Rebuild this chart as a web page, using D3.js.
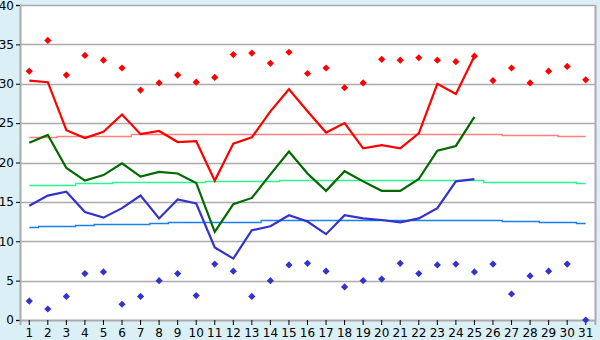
<!DOCTYPE html>
<html><head><meta charset="utf-8">
<script src="https://cdn.jsdelivr.net/npm/d3@7"></script>
<style>
body{margin:0;background:#daeff6;}
svg{display:block;}
text{font-family:"DejaVu Sans",sans-serif;font-size:12px;fill:#000;}
</style></head>
<body><svg id="c" width="600" height="340"></svg>
<script>
const days = d3.range(1, 32);
const yTicks = [0, 5, 10, 15, 20, 25, 30, 35, 40];
const maxDots = [31.6,35.5,31.1,33.6,33.0,32.0,29.2,30.1,31.1,30.2,30.8,33.7,33.9,32.6,34.0,31.3,32.0,29.5,30.1,33.1,33.0,33.3,33.0,32.8,33.5,30.4,32.0,30.1,31.6,32.2,30.5];
const minDots = [2.4,1.4,3.0,5.9,6.1,2.0,3.0,5.0,5.9,3.1,7.1,6.2,3.0,5.0,7.0,7.2,6.2,4.2,5.0,5.2,7.2,5.9,7.0,7.1,6.1,7.1,3.3,5.6,6.2,7.1,0.0];
const maxLine = [30.4,30.2,24.1,23.1,23.9,26.1,23.6,24.0,22.6,22.7,17.7,22.4,23.2,26.5,29.3,26.5,23.8,25.0,21.8,22.2,21.8,23.7,30.0,28.7,33.5];
const meanLine = [22.5,23.5,19.3,17.7,18.4,19.9,18.2,18.8,18.6,17.4,11.2,14.7,15.5,18.5,21.4,18.6,16.4,18.9,17.6,16.4,16.4,17.9,21.5,22.1,25.8];
const minLine = [14.5,15.8,16.3,13.7,13.0,14.2,15.8,12.9,15.3,14.8,9.2,7.8,11.4,11.9,13.3,12.5,10.9,13.3,12.9,12.7,12.4,12.9,14.2,17.6,17.9];
const maxNormal = [23.2,23.2,23.35,23.35,23.35,23.35,23.6,23.6,23.6,23.6,23.6,23.6,23.6,23.6,23.6,23.6,23.6,23.6,23.6,23.6,23.6,23.6,23.6,23.6,23.6,23.6,23.5,23.5,23.5,23.35,23.35];
const meanNormal = [17.1,17.1,17.2,17.35,17.35,17.5,17.5,17.5,17.5,17.5,17.6,17.6,17.6,17.6,17.75,17.75,17.75,17.75,17.75,17.75,17.75,17.75,17.75,17.75,17.75,17.5,17.5,17.5,17.5,17.5,17.35];
const minNormal = [11.85,12.0,12.0,12.1,12.25,12.25,12.25,12.35,12.5,12.5,12.5,12.5,12.5,12.75,12.75,12.75,12.75,12.75,12.75,12.75,12.75,12.75,12.75,12.65,12.65,12.65,12.55,12.55,12.4,12.4,12.3];

const L = 20, R = 595, T = 5, B = 320;
const svg = d3.select("#c");
const x = d3.scaleBand().domain(days).range([L, R]);
const cx = d => x(d) + x.bandwidth() / 2;
const y = d3.scaleLinear().domain([0, 40]).range([B, T]);

svg.append("rect").attr("x", L).attr("y", T).attr("width", R - L).attr("height", B - T).attr("fill", "#fff");

// grid
svg.append("g").selectAll("line").data(yTicks.filter(v => v > 0)).join("line")
  .attr("x1", L).attr("x2", R).attr("y1", d => Math.round(y(d)) + 0.5).attr("y2", d => Math.round(y(d)) + 0.5)
  .attr("stroke", "#ababab").attr("stroke-width", 1.5);
// right border
svg.append("line").attr("x1", R + 0.5).attr("x2", R + 0.5).attr("y1", T).attr("y2", B).attr("stroke", "#ababab").attr("stroke-width", 2);

// axes
const yAxis = svg.append("g").attr("transform", `translate(${L},0)`)
  .call(d3.axisLeft(y).tickValues(yTicks).tickSize(4).tickPadding(2));
const xAxis = svg.append("g").attr("transform", `translate(0,${B})`)
  .call(d3.axisBottom(x).tickSize(5).tickPadding(3));
[yAxis, xAxis].forEach(g => {
  g.select(".domain").attr("stroke", "#ababab").attr("stroke-width", 2);
  g.selectAll(".tick line").attr("stroke", "#000");
  g.selectAll("text").attr("font-family", "DejaVu Sans, sans-serif").attr("font-size", 12).attr("fill", "#000");
});
yAxis.selectAll(".tick text").filter(d => d === 40).attr("dy", "0.4em");

// normals (stepped)
const stepLine = d3.line().x((d, i) => cx(days[i])).y(d => Math.round(y(d)) + 0.5).curve(d3.curveStep);
[[maxNormal, "#ff7f7f"], [meanNormal, "#2af590"], [minNormal, "#1a7fef"]].forEach(([arr, col]) => {
  svg.append("path").attr("d", stepLine(arr)).attr("fill", "none").attr("stroke", col).attr("stroke-width", 1.3);
});

// daily lines
const line = d3.line().x((d, i) => cx(days[i])).y(d => y(d));
[[maxLine, "#ff0000"], [meanLine, "#006a00"], [minLine, "#3333cc"]].forEach(([arr, col]) => {
  svg.append("path").attr("d", line(arr)).attr("fill", "none").attr("stroke", col).attr("stroke-width", 2.2).attr("stroke-linejoin", "miter");
});

// dots (square diamonds)
const r = 3.6;
const diamond = `M0,${-r}L${r},0L0,${r}L${-r},0Z`;
[[maxDots, "#ff0000"], [minDots, "#3333cc"]].forEach(([arr, col]) => {
  svg.append("g").selectAll("path").data(arr).join("path")
    .attr("d", diamond).attr("transform", (d, i) => `translate(${cx(days[i])},${y(d)})`)
    .attr("fill", col);
});
</script></body></html>
